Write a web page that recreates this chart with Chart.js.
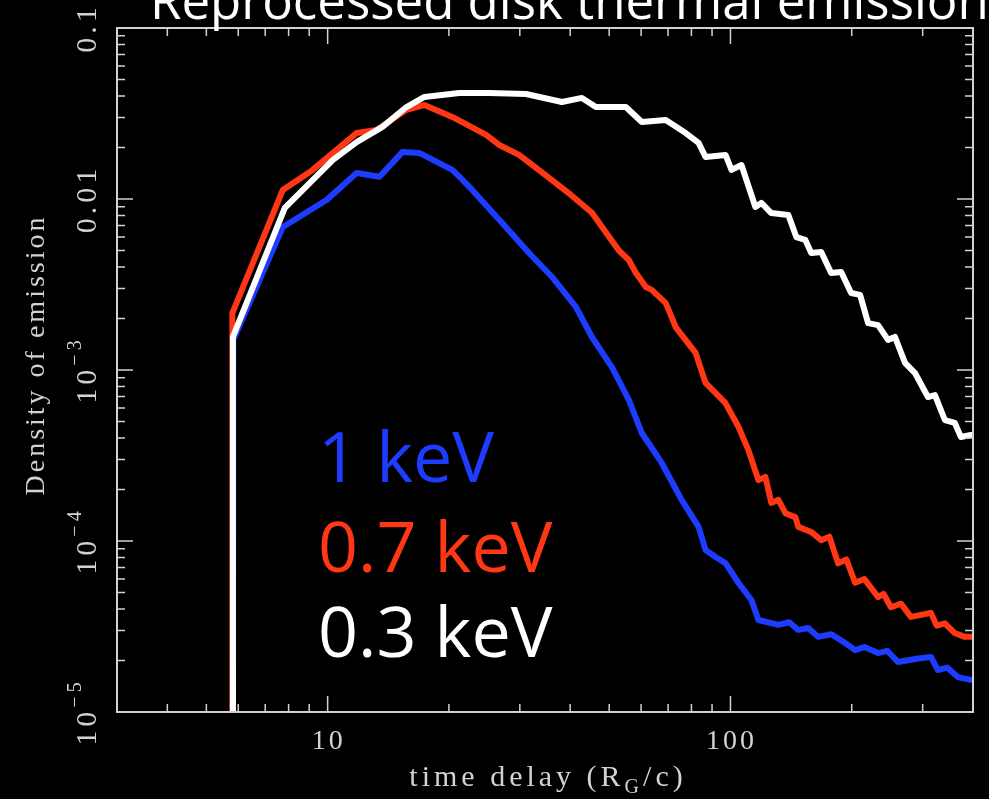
<!DOCTYPE html>
<html>
<head>
<meta charset="utf-8">
<title>Reprocessed disk thermal emission</title>
<script src="https://cdn.jsdelivr.net/npm/chart.js@4.4.1/dist/chart.umd.min.js"></script>
<style>
  html, body { margin: 0; padding: 0; background: #000; }
  canvas { display: block; }
</style>
</head>
<body>
<canvas id="myChart" width="989" height="799"></canvas>
<script>

// 0.3 keV (white)
var delay03 = [5.80, 5.82, 7.83, 10.29, 11.80, 13.68, 15.69, 17.39, 21.22, 25.18, 31.09, 38.17, 42.78, 46.34, 54.99, 60.24, 69.07, 77.43, 83.34, 86.73, 97.19, 100.6, 106.5, 115.3, 119.3, 126.3, 139.2, 145.7, 153.4, 158.7, 168.0, 177.8, 188.3, 199.3, 209.8, 219.6, 232.5, 246.1, 256.1, 271.2, 287.1, 309.2, 321.8, 340.6, 360.6, 373.1, 395];
var dens03  = [1e-6, 1.56e-3, 8.86e-3, 1.69e-2, 2.15e-2, 2.64e-2, 3.45e-2, 3.95e-2, 4.17e-2, 4.17e-2, 4.11e-2, 3.69e-2, 3.90e-2, 3.45e-2, 3.45e-2, 2.82e-2, 2.90e-2, 2.43e-2, 2.13e-2, 1.76e-2, 1.81e-2, 1.48e-2, 1.58e-2, 8.98e-3, 9.48e-3, 8.28e-3, 8.06e-3, 5.99e-3, 5.76e-3, 4.83e-3, 4.90e-3, 3.69e-3, 3.74e-3, 2.82e-3, 2.75e-3, 1.88e-3, 1.83e-3, 1.50e-3, 1.56e-3, 1.10e-3, 9.6e-4, 6.95e-4, 7.14e-4, 5.10e-4, 4.90e-4, 4.06e-4, 4.17e-4];

// 0.7 keV (red)
var delay07 = [5.79, 5.80, 7.74, 9.18, 11.80, 13.22, 15.69, 17.39, 20.39, 24.75, 26.66, 29.88, 36.06, 39.72, 45.29, 52.84, 55.93, 58.22, 61.63, 63.77, 69.07, 71.45, 73.10, 81.93, 86.73, 97.19, 104.7, 110.8, 117.3, 122.1, 126.3, 131.5, 137.0, 144.9, 147.4, 158.7, 168.0, 176.0, 185.0, 194.0, 203.9, 215.0, 232.5, 240.0, 250.3, 265.0, 280.5, 314.5, 325.0, 340.6, 360.0, 381.7, 395];
var dens07  = [1e-6, 2.15e-3, 1.13e-2, 1.48e-2, 2.43e-2, 2.53e-2, 3.32e-2, 3.55e-2, 3.02e-2, 2.37e-2, 2.07e-2, 1.81e-2, 1.29e-2, 1.08e-2, 8.3e-3, 5.0e-3, 4.4e-3, 3.7e-3, 3.06e-3, 2.94e-3, 2.46e-3, 2.04e-3, 1.78e-3, 1.26e-3, 8.4e-4, 6.4e-4, 4.64e-4, 3.4e-4, 2.27e-4, 2.37e-4, 1.67e-4, 1.74e-4, 1.45e-4, 1.38e-4, 1.21e-4, 1.13e-4, 1.01e-4, 1.06e-4, 7.4e-5, 7.8e-5, 5.7e-5, 6.0e-5, 4.7e-5, 4.9e-5, 4.1e-5, 4.3e-5, 3.6e-5, 3.8e-5, 3.2e-5, 3.3e-5, 2.9e-5, 2.75e-5, 2.75e-5];

// 1 keV (blue)
var delay1 = [5.82, 5.83, 7.74, 9.94, 11.80, 13.45, 15.33, 16.89, 20.39, 21.22, 22.85, 27.12, 31.62, 36.06, 41.34, 45.29, 50.77, 55.93, 60.24, 67.51, 75.65, 83.34, 86.73, 91.81, 97.19, 104.7, 112.7, 117.3, 131.5, 140.0, 147.4, 156.0, 165.1, 178.0, 192.6, 203.9, 215.0, 232.5, 245.0, 260.5, 290.0, 314.5, 327.3, 345.0, 366.8, 395];
var dens1  = [1e-6, 1.50e-3, 6.86e-3, 9.87e-3, 1.42e-2, 1.35e-2, 1.88e-2, 1.86e-2, 1.48e-2, 1.35e-2, 1.13e-2, 7.24e-3, 4.83e-3, 3.50e-3, 2.34e-3, 1.56e-3, 1.04e-3, 6.68e-4, 4.28e-4, 2.86e-4, 1.74e-4, 1.21e-4, 8.86e-5, 8.06e-5, 7.43e-5, 5.68e-5, 4.52e-5, 3.45e-5, 3.23e-5, 3.35e-5, 3.02e-5, 3.10e-5, 2.75e-5, 2.85e-5, 2.53e-5, 2.30e-5, 2.40e-5, 2.21e-5, 2.28e-5, 1.96e-5, 2.05e-5, 2.10e-5, 1.76e-5, 1.82e-5, 1.60e-5, 1.54e-5];

var seriesNames = ['0.3 keV', '0.7 keV', '1 keV'];
var chartTitle = 'Reprocessed disk thermal emission';

var xTickValues = [10, 100];
var xTickLabels = ['10', '100'];
var yTickValues = [0.1, 0.01, 1e-3, 1e-4, 1e-5];
var yTickBase   = ['0.1', '0.01', '10', '10', '10'];
var yTickSup    = ['', '', '\u22123', '\u22124', '\u22125'];

var WHITE = '#ffffff', RED = '#ff3714', BLUE = '#1e3cff', AXIS = '#d2d2d2';

function pts(xs, ys) {
    return xs.map(function (v, i) { return { x: v, y: ys[i] }; });
}

// minor ticks: 2..9 in every decade
function minorTicks(lo, hi) {
    var out = [];
    for (var d = Math.floor(Math.log10(lo)); d <= Math.ceil(Math.log10(hi)); d++) {
        for (var m = 1; m <= 9; m++) {
            var v = m * Math.pow(10, d);
            if (v >= lo * 0.999 && v <= hi * 1.001) out.push({ v: v, major: m === 1 });
        }
    }
    return out;
}

function spaced(ctx, px) {
    if ('letterSpacing' in ctx) ctx.letterSpacing = px + 'px';
}

var pgAxes = {
    id: 'pgAxes',
    afterDatasetsDraw: function (chart) {
        var ctx = chart.ctx, a = chart.chartArea;
        var x = chart.scales.x, y = chart.scales.y;
        ctx.save();

        // frame
        ctx.strokeStyle = AXIS;
        ctx.lineWidth = 2;
        ctx.strokeRect(a.left, a.top, a.right - a.left, a.bottom - a.top);

        // ticks on all four sides, pointing inwards
        ctx.lineWidth = 1.5;
        ctx.beginPath();
        minorTicks(x.min, x.max).forEach(function (t) {
            var px = x.getPixelForValue(t.v), len = t.major ? 16 : 8;
            ctx.moveTo(px, a.bottom); ctx.lineTo(px, a.bottom - len);
            ctx.moveTo(px, a.top); ctx.lineTo(px, a.top + len);
        });
        minorTicks(y.min, y.max).forEach(function (t) {
            var py = y.getPixelForValue(t.v), len = t.major ? 16 : 8;
            ctx.moveTo(a.left, py); ctx.lineTo(a.left + len, py);
            ctx.moveTo(a.right, py); ctx.lineTo(a.right - len, py);
        });
        ctx.stroke();

        ctx.fillStyle = AXIS;

        // x tick labels
        ctx.font = '28px "Liberation Serif", serif';
        spaced(ctx, 3);
        ctx.textAlign = 'center';
        ctx.textBaseline = 'middle';
        xTickValues.forEach(function (v, i) {
            ctx.fillText(xTickLabels[i], x.getPixelForValue(v) + 1, a.bottom + 30);
        });

        // y tick labels, rotated
        yTickValues.forEach(function (v, i) {
            var py = y.getPixelForValue(v);
            ctx.save();
            ctx.translate(88, py);
            ctx.rotate(-Math.PI / 2);
            ctx.textAlign = 'left';
            ctx.textBaseline = 'middle';
            ctx.font = '30px "Liberation Serif", serif';
            spaced(ctx, 4);
            var wb = ctx.measureText(yTickBase[i]).width;
            ctx.font = '20px "Liberation Serif", serif';
            var ws = yTickSup[i] ? ctx.measureText(yTickSup[i]).width : 0;
            var start = -(wb + ws) / 2;
            ctx.font = '30px "Liberation Serif", serif';
            ctx.fillText(yTickBase[i], start, 0);
            if (yTickSup[i]) {
                ctx.font = '20px "Liberation Serif", serif';
                ctx.fillText(yTickSup[i], start + wb, -12);
            }
            ctx.restore();
        });

        // x axis title with subscript
        ctx.textAlign = 'left';
        ctx.textBaseline = 'alphabetic';
        var big = '30px "Liberation Serif", serif', small = '20px "Liberation Serif", serif';
        var parts = [['time delay (R', big, 0], ['G', small, 7], ['/c)', big, 0]];
        spaced(ctx, 4);
        var total = 0;
        parts.forEach(function (p) { ctx.font = p[1]; p.push(ctx.measureText(p[0]).width); total += p[3]; });
        var cx = (a.left + a.right) / 2 + 3 - total / 2;
        parts.forEach(function (p) {
            ctx.font = p[1];
            ctx.fillText(p[0], cx, 786 + p[2]);
            cx += p[3];
        });

        // y axis title
        ctx.save();
        ctx.translate(37, 355);
        ctx.rotate(-Math.PI / 2);
        ctx.textAlign = 'center';
        ctx.textBaseline = 'middle';
        ctx.font = '28px "Liberation Serif", serif';
        spaced(ctx, 3);
        ctx.fillText('Density of emission', 0, 0);
        ctx.restore();

        // title, cropped at the top
        spaced(ctx, 0);
        ctx.fillStyle = WHITE;
        ctx.textAlign = 'left';
        ctx.textBaseline = 'alphabetic';
        ctx.font = '51px "Open Sans", sans-serif';
        ctx.fillText(chartTitle, 150, 19);

        // in-plot series labels
        ctx.font = '70px "Open Sans", sans-serif';
        ctx.fillStyle = BLUE;
        ctx.fillText(seriesNames[2], 318, 482);
        ctx.fillStyle = RED;
        ctx.fillText(seriesNames[1], 318, 572);
        ctx.fillStyle = WHITE;
        ctx.fillText(seriesNames[0], 318, 657);

        ctx.restore();
    }
};

var ctx = document.getElementById('myChart').getContext('2d');
var myChart = new Chart(ctx, {
    type: 'line',
    data: {
        datasets: [
            { label: seriesNames[0], data: pts(delay03, dens03), borderColor: WHITE, order: 0 },
            { label: seriesNames[1], data: pts(delay07, dens07), borderColor: RED, order: 1 },
            { label: seriesNames[2], data: pts(delay1, dens1), borderColor: BLUE, order: 2 }
        ]
    },
    options: {
        responsive: false,
        animation: false,
        devicePixelRatio: 1,
        layout: { padding: { left: 117, top: 28, right: 16, bottom: 87 } },
        elements: {
            line: { borderWidth: 6, tension: 0, borderJoinStyle: 'round', borderCapStyle: 'round', fill: false },
            point: { radius: 0, hoverRadius: 0 }
        },
        datasets: { line: { clip: 0 } },
        plugins: {
            legend: { display: false },
            tooltip: { enabled: false }
        },
        scales: {
            x: { type: 'logarithmic', min: 3, max: 400, display: false },
            y: { type: 'logarithmic', min: 1e-5, max: 0.1, display: false }
        }
    },
    plugins: [pgAxes]
});

</script>
</body>
</html>
